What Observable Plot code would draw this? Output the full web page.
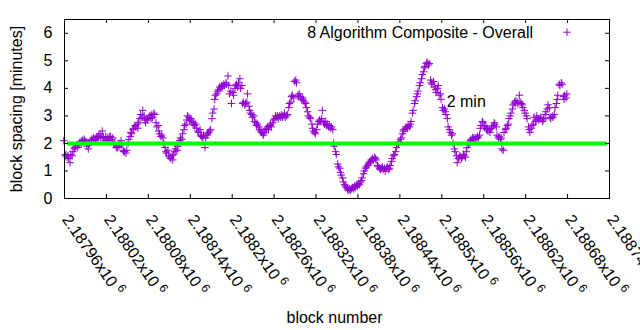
<!DOCTYPE html>
<html>
<head>
<meta charset="utf-8">
<script src="https://cdn.jsdelivr.net/npm/d3@7"></script>
<script src="https://cdn.jsdelivr.net/npm/@observablehq/plot@0.6"></script>
<style>
  html, body { margin: 0; padding: 0; background: #fff; }
  #chart svg { display: block; }
</style>
</head>
<body>
<div id="chart"></div>
<script>
// ---- data ----
const seriesName = "8 Algorithm Composite - Overall";
const refLabel = "2 min";
const refValue = 2;
const refLabelBlock = 2188507;
const refLabelValue = 3.5;

const blockNumber = [
2187959,2187961,2187962,2187964,2187965,2187966,2187968,
2187969,2187971,2187972,2187974,2187975,2187976,2187978,
2187979,2187981,2187982,2187984,2187985,2187986,2187988,
2187989,2187991,2187992,2187994,2187995,2187996,2187998,
2187999,2188001,2188002,2188004,2188005,2188006,2188008,
2188009,2188011,2188012,2188014,2188015,2188016,2188018,
2188019,2188021,2188022,2188024,2188025,2188026,2188028,
2188029,2188031,2188032,2188034,2188035,2188036,2188038,
2188039,2188041,2188042,2188044,2188045,2188046,2188048,
2188049,2188051,2188052,2188054,2188055,2188056,2188058,
2188059,2188061,2188062,2188064,2188065,2188066,2188068,
2188069,2188071,2188072,2188074,2188075,2188076,2188078,
2188079,2188081,2188082,2188084,2188085,2188086,2188088,
2188089,2188091,2188092,2188094,2188095,2188096,2188098,
2188099,2188101,2188102,2188104,2188105,2188106,2188108,
2188109,2188111,2188112,2188114,2188115,2188116,2188118,
2188119,2188121,2188122,2188124,2188125,2188126,2188128,
2188129,2188131,2188132,2188134,2188135,2188136,2188138,
2188139,2188141,2188142,2188144,2188145,2188146,2188148,
2188149,2188151,2188152,2188154,2188155,2188156,2188158,
2188159,2188161,2188162,2188164,2188165,2188166,2188168,
2188169,2188171,2188172,2188174,2188175,2188176,2188178,
2188179,2188181,2188182,2188184,2188185,2188186,2188188,
2188189,2188191,2188192,2188194,2188195,2188196,2188198,
2188199,2188201,2188202,2188204,2188205,2188206,2188208,
2188209,2188211,2188212,2188214,2188215,2188216,2188218,
2188219,2188221,2188222,2188224,2188225,2188226,2188228,
2188229,2188231,2188232,2188234,2188235,2188236,2188238,
2188239,2188241,2188242,2188244,2188245,2188246,2188248,
2188249,2188251,2188252,2188254,2188255,2188256,2188258,
2188259,2188261,2188262,2188264,2188265,2188266,2188268,
2188269,2188271,2188272,2188274,2188275,2188276,2188278,
2188279,2188281,2188282,2188284,2188285,2188286,2188288,
2188289,2188291,2188292,2188294,2188295,2188296,2188298,
2188299,2188301,2188302,2188304,2188305,2188306,2188308,
2188309,2188311,2188312,2188314,2188315,2188316,2188318,
2188319,2188321,2188322,2188324,2188325,2188326,2188328,
2188329,2188331,2188332,2188334,2188335,2188336,2188338,
2188339,2188341,2188342,2188344,2188345,2188346,2188348,
2188349,2188351,2188352,2188354,2188355,2188356,2188358,
2188359,2188361,2188362,2188364,2188365,2188366,2188368,
2188369,2188371,2188372,2188374,2188375,2188376,2188378,
2188379,2188381,2188382,2188384,2188385,2188386,2188388,
2188389,2188391,2188392,2188394,2188395,2188396,2188398,
2188399,2188401,2188402,2188404,2188405,2188406,2188408,
2188409,2188411,2188412,2188414,2188415,2188416,2188418,
2188419,2188421,2188422,2188424,2188425,2188426,2188428,
2188429,2188431,2188432,2188434,2188435,2188436,2188438,
2188439,2188441,2188442,2188444,2188445,2188446,2188448,
2188449,2188451,2188452,2188454,2188455,2188456,2188458,
2188459,2188461,2188462,2188464,2188465,2188466,2188468,
2188469,2188471,2188472,2188474,2188475,2188476,2188478,
2188479,2188481,2188482,2188484,2188485,2188486,2188488,
2188489,2188491,2188492,2188494,2188495,2188496,2188498,
2188499,2188501,2188502,2188504,2188505,2188506,2188508,
2188509,2188511,2188512,2188514,2188515,2188516,2188518,
2188519,2188521,2188522,2188524,2188525,2188526,2188528,
2188529,2188531,2188532,2188534,2188535,2188536,2188538,
2188539,2188541,2188542,2188544,2188545,2188546,2188548,
2188549,2188551,2188552,2188554,2188555,2188556,2188558,
2188559,2188561,2188562,2188564,2188565,2188566,2188568,
2188569,2188571,2188572,2188574,2188575,2188576,2188578,
2188579,2188581,2188582,2188584,2188585,2188586,2188588,
2188589,2188591,2188592,2188594,2188595,2188596,2188598,
2188599,2188601,2188602,2188604,2188605,2188606,2188608,
2188609,2188611,2188612,2188614,2188615,2188616,2188618,
2188619,2188621,2188622,2188624,2188625,2188626,2188628,
2188629,2188631,2188632,2188634,2188635,2188636,2188638,
2188639,2188641,2188642,2188644,2188645,2188646,2188648,
2188649,2188651,2188652,2188654,2188655,2188656,2188658,
2188659,2188661,2188662,2188664,2188665,2188666,2188668,
2188669,2188671,2188672,2188674,2188675,2188676,2188678,
2188679
];

const spacingMinutes = [
2.1,1.55,1.6,1.5,1.55,1.45,1.3,
1.6,1.55,1.7,1.8,1.85,1.9,1.95,
1.85,1.95,2.05,2.0,2.1,2.1,2.15,
2.1,2.05,1.9,1.8,1.95,2.0,2.1,
2.15,2.2,2.2,2.1,2.15,2.25,2.2,
2.3,2.35,2.2,2.45,2.25,2.2,2.1,
2.25,2.15,2.2,2.25,2.1,2.25,2.15,
2.2,1.95,2.0,1.85,1.9,1.85,1.9,
2.0,2.1,1.95,1.75,1.7,1.7,1.65,
1.75,2.0,2.15,2.25,2.4,2.35,2.5,
2.55,2.65,2.6,2.7,2.55,2.75,2.9,
3.05,2.95,3.2,3.0,2.85,2.75,2.9,
2.85,2.95,3.0,2.9,3.05,2.95,3.1,
3.05,2.75,2.6,2.65,2.45,2.35,2.25,
2.3,2.2,2.0,1.85,1.7,1.65,1.75,
1.55,1.5,1.45,1.55,1.4,1.6,1.7,
1.8,1.75,1.9,2.0,2.1,2.2,2.15,
2.35,2.5,2.65,2.7,2.85,3.0,2.95,
2.85,2.9,2.8,2.7,2.75,2.65,2.7,
2.55,2.45,2.4,2.5,2.3,2.25,2.2,
2.3,1.85,2.2,2.3,2.35,2.4,2.45,
2.5,2.9,3.1,3.25,3.6,3.75,3.8,
3.9,3.95,4.05,4.0,4.1,4.05,4.15,
4.1,4.2,4.15,4.45,4.1,3.8,3.9,
3.45,3.85,3.75,4.0,4.1,4.15,4.05,
4.2,4.35,4.0,4.1,3.45,3.5,3.4,
3.45,3.5,3.8,3.35,3.2,3.1,3.05,
2.95,3.0,2.8,2.75,2.65,2.7,2.6,
2.5,2.45,2.4,2.35,2.3,2.4,2.5,
2.55,2.6,2.5,2.65,2.7,2.6,2.75,
2.85,2.9,3.0,2.95,3.0,2.9,3.0,
2.95,3.05,2.95,3.0,3.1,2.95,3.0,
3.05,3.3,3.45,3.5,3.7,3.75,3.65,
4.25,4.3,4.2,3.75,3.7,3.8,3.7,
3.6,3.65,3.55,3.5,3.45,3.3,3.15,
3.0,2.95,2.9,2.7,2.55,2.45,2.4,
2.35,2.5,2.7,2.8,2.85,2.8,2.9,
3.2,2.75,2.7,2.8,2.65,2.7,2.6,
2.65,2.55,2.6,2.5,2.0,1.9,1.7,
1.6,1.25,1.15,1.1,0.95,0.85,0.75,
0.6,0.5,0.45,0.4,0.35,0.3,0.35,
0.3,0.35,0.4,0.35,0.45,0.4,0.5,
0.45,0.55,0.5,0.6,0.65,0.75,0.9,
1.0,1.1,1.15,1.2,1.25,1.3,1.35,
1.4,1.45,1.4,1.5,1.45,1.4,1.2,
1.15,1.1,1.05,1.1,1.15,1.05,1.1,
1.0,1.1,1.15,1.05,1.1,1.2,1.35,
1.45,1.55,1.6,1.7,1.85,1.95,2.0,
2.05,2.15,2.2,2.35,2.45,2.5,2.55,
2.6,2.55,2.65,2.6,2.7,2.8,3.1,
3.2,3.45,3.55,3.7,3.8,3.9,4.1,
4.2,4.35,4.5,4.6,4.75,4.8,4.9,
4.95,4.85,4.9,4.3,4.2,4.15,4.25,
4.05,3.95,3.85,4.0,4.1,3.75,3.8,
3.6,3.3,3.2,3.25,3.15,3.05,2.9,
2.6,2.5,2.4,2.3,2.35,2.0,1.8,
1.7,1.55,1.3,1.45,1.5,1.55,1.45,
1.5,1.6,1.55,1.5,1.7,1.85,1.95,
2.0,2.1,2.15,2.2,2.15,2.2,2.15,
2.2,2.25,2.2,2.3,2.55,2.65,2.8,
2.75,2.6,2.65,2.5,2.55,2.45,2.5,
2.4,2.55,2.6,2.65,2.75,2.7,2.6,
2.3,2.2,2.25,2.15,2.2,1.8,1.75,
2.4,2.5,2.55,2.65,2.7,2.9,3.0,
3.1,3.25,3.4,3.5,3.45,3.55,3.5,
3.45,3.75,3.5,3.45,3.4,3.3,3.2,
3.1,3.0,2.9,2.6,2.5,2.4,2.55,
2.65,2.7,2.95,2.8,2.85,3.0,2.9,
2.85,2.95,2.9,2.8,2.85,2.9,3.05,
3.15,3.25,3.4,3.3,2.95,2.9,3.0,
2.95,3.05,3.3,3.45,3.6,3.75,4.15,
4.1,4.2,4.15,3.7,3.6,3.75,3.65,
3.8
];

const xTicks = [2187960, 2188020, 2188080, 2188140, 2188200, 2188260, 2188320,
                2188380, 2188440, 2188500, 2188560, 2188620, 2188680, 2188740];
const xTickLabels = ["2.18796", "2.18802", "2.18808", "2.18814", "2.1882", "2.18826", "2.18832",
                     "2.18838", "2.18844", "2.1885", "2.18856", "2.18862", "2.18868", "2.18874"];
const xTickExponent = "6";
const yTicks = [0, 1, 2, 3, 4, 5, 6];
const xTitle = "block number";
const yTitle = "block spacing [minutes]";

// ---- build ----
const points = blockNumber.map((b, i) => ({block: b, spacing: spacingMinutes[i]}));
const xTickRows = xTicks.map((v, i) => ({v, label: xTickLabels[i]}));

const W = 640, H = 330, ML = 64, MR = 31, MT = 19, MB = 132;
const frameW = W - ML - MR, frameH = H - MT - MB;
const tickLen = 4;
const purple = "#9400d3";
const font = "'Liberation Sans', Arial, sans-serif";

const plusSymbol = {
  draw(context, size) {
    const r = Math.sqrt(size / Math.PI);
    context.moveTo(-r, 0); context.lineTo(r, 0);
    context.moveTo(0, -r); context.lineTo(0, r);
  }
};

const chart = Plot.plot({
  width: W, height: H,
  marginLeft: ML, marginRight: MR, marginTop: MT, marginBottom: MB,
  style: {fontFamily: font, fontSize: "16px", color: "#000", background: "#fff", overflow: "visible"},
  x: {domain: [xTicks[0], xTicks[xTicks.length - 1]], axis: null},
  y: {domain: [0, 6.5], axis: null},
  marks: [
    // data
    Plot.dot(points, {x: "block", y: "spacing", symbol: plusSymbol, r: 3.8,
      fill: "none", stroke: purple, strokeWidth: 1}),
    // 2 min reference line
    Plot.ruleY([refValue], {stroke: "#00ff00", strokeWidth: 4, insetLeft: 3, insetRight: 2}),
    // frame
    Plot.frame({stroke: "#000"}),
    // inward ticks, all four sides
    Plot.ruleY(yTicks, {y: d => d, insetRight: frameW - tickLen, stroke: "#000"}),
    Plot.ruleY(yTicks, {y: d => d, insetLeft: frameW - tickLen, stroke: "#000"}),
    Plot.ruleX(xTicks, {x: d => d, insetTop: frameH - tickLen, stroke: "#000"}),
    Plot.ruleX(xTicks, {x: d => d, insetBottom: frameH - tickLen, stroke: "#000"}),
    // y tick labels
    Plot.text(yTicks, {y: d => d, text: d => String(d), frameAnchor: "left", dx: -12,
      textAnchor: "end", lineAnchor: "middle", fill: "#000", fontSize: 16}),
    // x tick labels (rotated)
    Plot.text(xTickRows, {x: "v", text: d => d.label + "x10", frameAnchor: "bottom",
      dx: -3, dy: 21, rotate: 55, textAnchor: "start", lineAnchor: "bottom",
      fill: "#000", fontSize: 16}),
    // axis titles
    Plot.text([xTitle], {frameAnchor: "bottom", dx: -2.5, dy: 124, textAnchor: "middle",
      lineAnchor: "bottom", fill: "#000", fontSize: 16}),
    Plot.text([yTitle], {frameAnchor: "left", dx: -42.5, rotate: -90, textAnchor: "middle",
      lineAnchor: "bottom", fill: "#000", fontSize: 16}),
    // annotation
    Plot.text([refLabel], {x: refLabelBlock, y: refLabelValue, textAnchor: "start",
      lineAnchor: "middle", fill: "#000", fontSize: 16}),
    // key
    Plot.text([seriesName], {frameAnchor: "top-right", dx: -76.5, dy: 18, textAnchor: "end",
      lineAnchor: "bottom", fill: "#000", fontSize: 16}),
    Plot.dot([0], {frameAnchor: "top-right", dx: -42.5, dy: 12.7, symbol: plusSymbol, r: 3.8,
      fill: "none", stroke: purple, strokeWidth: 1})
  ]
});

// superscript exponent on x tick labels
d3.select(chart).selectAll("text")
  .filter(function () { return /x10$/.test(this.textContent); })
  .each(function () {
    const t = this.textContent;
    this.textContent = "";
    const sel = d3.select(this);
    sel.append("tspan").text(t);
    sel.append("tspan").attr("dx", "4").attr("dy", "-6").attr("font-size", "12px").text(xTickExponent);
  });

document.getElementById("chart").appendChild(chart);
</script>
</body>
</html>
